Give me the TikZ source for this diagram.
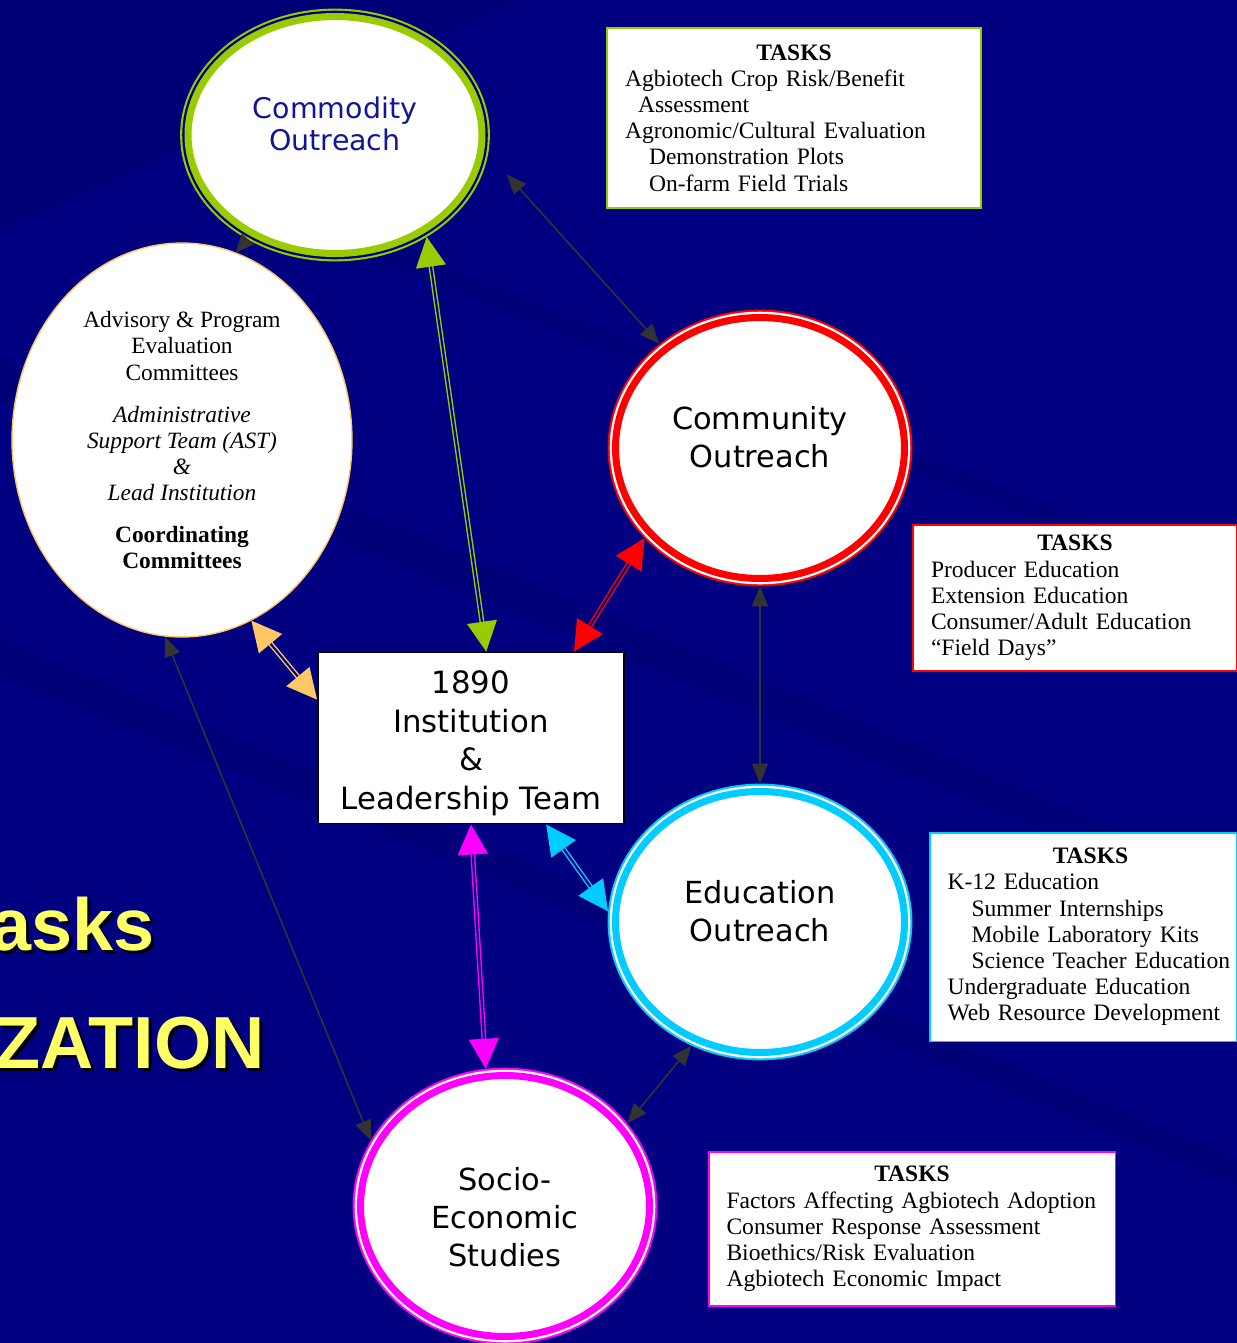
\documentclass[tikz,border=0pt]{standalone}
\usepackage{fontspec}
\setmainfont{Liberation Serif}
\newfontfamily\ovalfont{DejaVu Sans}
\newfontfamily\headfont{Liberation Sans}
\usetikzlibrary{shapes.geometric,arrows.meta}

\definecolor{bgblue}{RGB}{0,0,128}
\definecolor{streak}{RGB}{0,0,70}
\definecolor{comgreen}{RGB}{153,204,0}
\definecolor{cmured}{RGB}{255,0,0}
\definecolor{educyan}{RGB}{0,204,255}
\definecolor{socmag}{RGB}{255,0,255}
\definecolor{advorange}{RGB}{255,200,100}
\definecolor{linkgray}{RGB}{51,51,51}
\definecolor{comtext}{RGB}{20,20,150}
\definecolor{headyellow}{RGB}{255,255,102}

\newcommand{\shadowed}[1]{\rlap{\kern0.06cm\raisebox{-0.06cm}{\color{black}#1}}#1}

\tikzset{
  ring/.style 2 args={ellipse, fill=white, draw=#1, line width=4pt,
    inner sep=0pt, outer sep=4.5pt,
    preaction={draw=#1, line width=9pt},
    preaction={draw=#2, line width=6.6pt},
    align=center, font=\ovalfont\fontsize{17.3}{21.6}\selectfont},
  tbox/.style={draw=#1, fill=white, line width=1.1pt, align=left,
    inner xsep=0.36cm, inner ysep=0pt,
    font=\fontsize{13.4}{14.9}\selectfont},
  clink/.style={draw=#1, double=bgblue, double distance=1.2pt, line width=0.8pt,
    {Triangle[length=0.6cm,width=0.6cm]}-{Triangle[length=0.6cm,width=0.6cm]}},
  glink/.style={draw=linkgray, line width=0.9pt,
    {Triangle[length=0.4cm,width=0.32cm]}-{Triangle[length=0.4cm,width=0.32cm]}},
  bigword/.style={anchor=base east, text=headyellow, inner sep=0pt,
    font=\headfont\bfseries\fontsize{42}{42}\selectfont}
}

\begin{document}
\begin{tikzpicture}[x={(0.02cm,0)}, y={(0,-0.02cm)}]
\useasboundingbox (0,0) rectangle (1237,1343);
\fill[bgblue] (0,0) rectangle (1237,1343);
% streaks
\fill[streak, opacity=0.15] (0,0) -- (520,0) -- (0,230) -- cycle;
\fill[streak, opacity=0.12] (0,360) -- (1237,880) -- (1237,910) -- (0,400) -- cycle;
\fill[streak, opacity=0.12] (0,640) -- (1237,1160) -- (1237,1185) -- (0,675) -- cycle;
\fill[streak, opacity=0.1] (300,210) -- (1237,580) -- (1237,600) -- (300,230) -- cycle;

\node[bigword] (tasks) at (155,950) {\shadowed{asks}};
\node[bigword] (org) at (265,1068) {\shadowed{ZATION}};

\node[ellipse, fill=white, draw=advorange, line width=0.8pt, inner sep=0pt,
  minimum width=6.8cm, minimum height=7.88cm, align=center,
  font=\fontsize{13.3}{14.8}\selectfont] (adv) at (182,440)
  {Advisory \& Program\\Evaluation\\Committees\\[0.32cm]
   \textit{Administrative}\\\textit{Support Team (AST)}\\\textit{\&}\\\textit{Lead Institution}\\[0.32cm]
   \textbf{Coordinating}\\\textbf{Committees}};

\node[ring={comgreen}{bgblue}, minimum width=5.88cm, minimum height=4.74cm,
  text=comtext, font=\ovalfont\fontsize{16.2}{18.1}\selectfont] (com) at (335,135)
  {Commodity\\Outreach\\[-0.18cm]};
\node[ring={cmured}{white}, minimum width=5.78cm, minimum height=5.22cm] (cmu) at (760,448)
  {Community\\Outreach\\[-0.32cm]};
\node[ring={educyan}{white}, minimum width=5.78cm, minimum height=5.22cm] (edu) at (760,922)
  {Education\\Outreach\\[-0.32cm]};
\node[ring={socmag}{white}, minimum width=5.78cm, minimum height=5.22cm] (soc) at (505,1206)
  {\mbox{}\\[0.14cm]Socio-\\Economic\\Studies};

\node[rectangle, fill=white, draw=black, line width=1.1pt, minimum width=6.12cm,
  minimum height=3.42cm, align=center, inner sep=0pt,
  font=\ovalfont\fontsize{17.5}{22}\selectfont] (inst) at (471,738)
  {\mbox{}\\[-0.11cm]1890\\Institution\\\&\\Leadership Team};

\node[tbox=comgreen, minimum height=3.6cm, text width=6.76cm] (t1) at (794,118)
  {\hfill\textbf{TASKS}\hfill\null\\
   Agbiotech Crop Risk/Benefit\\
   \hspace*{0.26cm}Assessment\\
   Agronomic/Cultural Evaluation\\
   \hspace*{0.48cm}Demonstration Plots\\
   \hspace*{0.48cm}On-farm Field Trials};
\node[tbox=cmured, minimum height=2.92cm, text width=5.76cm] (t2) at (1075,598)
  {\hfill\textbf{TASKS}\hfill\null\\
   Producer Education\\
   Extension Education\\
   Consumer/Adult Education\\
   ``Field Days''};
\node[tbox=educyan, minimum height=4.18cm, text width=5.42cm] (t3) at (1083,937)
  {\hfill\hspace*{0.3cm}\textbf{TASKS}\hfill\null\\
   K-12 Education\\
   \hspace*{0.48cm}Summer Internships\\
   \hspace*{0.48cm}Mobile Laboratory Kits\\
   \mbox{\hspace*{0.48cm}Science Teacher Education}\\
   Undergraduate Education\\
   \mbox{Web Resource Development}};
\node[tbox=socmag, minimum height=3.08cm, text width=7.42cm] (t4) at (912,1229)
  {\hfill\textbf{TASKS}\hfill\null\\
   Factors Affecting Agbiotech Adoption\\
   Consumer Response Assessment\\
   Bioethics/Risk Evaluation\\
   Agbiotech Economic Impact};

% links
\draw[clink=comgreen] (com.-48) -- (inst.80);
\draw[clink=cmured] (cmu.-142) -- (inst.40);
\draw[clink=advorange] (adv.-69) -- (inst.166);
\draw[clink=educyan] (inst.-49) -- (edu.176);
\draw[clink=socmag] (inst.south) -- (soc.98);

\draw[glink, shorten <=0.55cm] (com.-7) -- (cmu.134);
\draw[glink] (cmu.south) -- (edu.north);
\draw[glink] (adv.-95) -- (soc.154);
\draw[glink] (edu.-119) -- (soc.34);
\draw[glink, arrows=-{Triangle[length=0.36cm,width=0.32cm]}] (com.-130) -- (adv.74);
\end{tikzpicture}
\end{document}
